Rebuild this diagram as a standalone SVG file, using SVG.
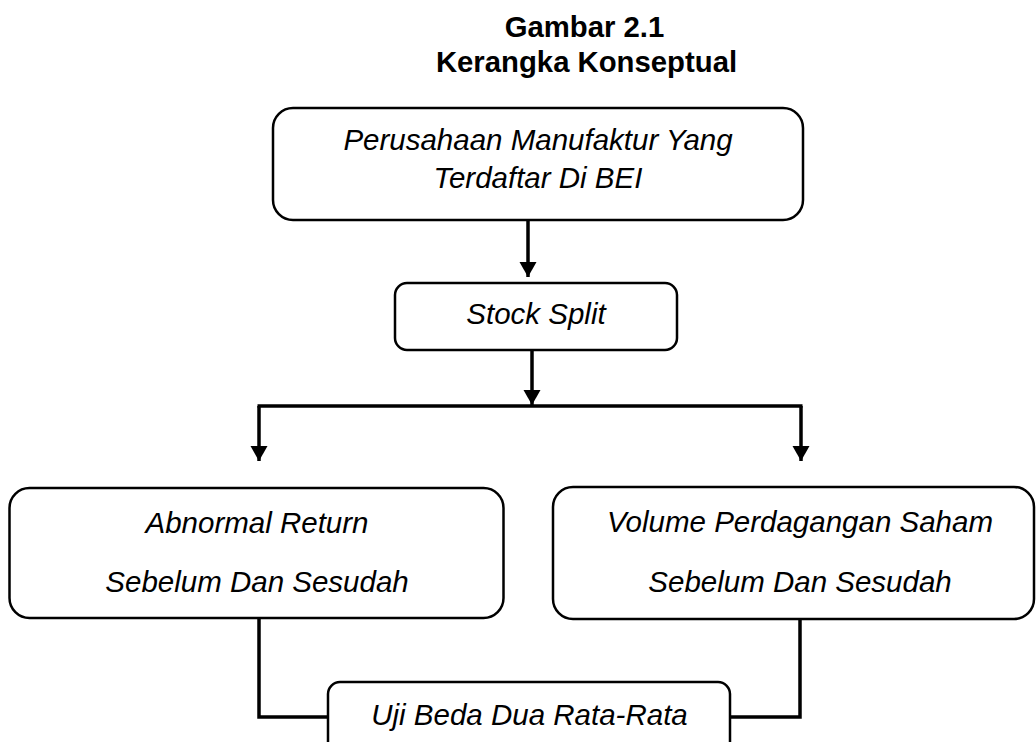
<svg xmlns="http://www.w3.org/2000/svg" width="1036" height="742" viewBox="0 0 1036 742">
<style>
.box{fill:#fff;stroke:#000;stroke-width:2.5}
.t{font-family:"Liberation Sans",Arial,sans-serif;font-style:italic;font-size:29.5px;text-anchor:middle;fill:#000}
.title{font-family:"Liberation Sans",Arial,sans-serif;font-weight:bold;font-size:29.3px;text-anchor:middle;fill:#000}
.ln{fill:none;stroke:#000;stroke-width:3.5}
</style>
<defs>
<marker id="arr" markerUnits="userSpaceOnUse" markerWidth="16" markerHeight="18" refX="15" refY="8.5" orient="auto" viewBox="0 0 16 18">
<path d="M0,0 L15,8.5 L0,17 Z" fill="#000"/>
</marker>
</defs>
<rect width="1036" height="742" fill="#fff"/>
<g id="title">
<text class="title" x="584.5" y="37">Gambar 2.1</text>
<text class="title" x="586.5" y="72">Kerangka Konseptual</text>
</g>
<g id="connectors">
<path class="ln" d="M528,221 V277" marker-end="url(#arr)"/>
<path class="ln" d="M532,350 V405" marker-end="url(#arr)"/>
<path class="ln" d="M257.5,406 H802.5"/>
<path class="ln" d="M259,406 V461" marker-end="url(#arr)"/>
<path class="ln" d="M801,406 V461" marker-end="url(#arr)"/>
<path class="ln" d="M259,618 V717 H328"/>
<path class="ln" d="M800,619 V717 H730"/>
</g>
<g id="node-perusahaan">
<rect class="box" x="273" y="108" width="530" height="112" rx="20"/>
<text class="t" x="538" y="150">Perusahaan Manufaktur Yang</text>
<text class="t" x="538" y="188">Terdaftar Di BEI</text>
</g>
<g id="node-stocksplit">
<rect class="box" x="395" y="283" width="282" height="67" rx="12"/>
<text class="t" x="536" y="324">Stock Split</text>
</g>
<g id="node-abnormal">
<rect class="box" x="9.5" y="488" width="494" height="130" rx="20"/>
<text class="t" x="257" y="533">Abnormal Return</text>
<text class="t" x="257" y="592">Sebelum Dan Sesudah</text>
</g>
<g id="node-volume">
<rect class="box" x="553" y="487" width="481" height="132" rx="20"/>
<text class="t" x="800" y="532">Volume Perdagangan Saham</text>
<text class="t" x="800" y="592">Sebelum Dan Sesudah</text>
</g>
<g id="node-uji">
<rect class="box" x="328" y="682" width="402" height="80" rx="12"/>
<text class="t" x="529.5" y="725">Uji Beda Dua Rata-Rata</text>
</g>
</svg>
